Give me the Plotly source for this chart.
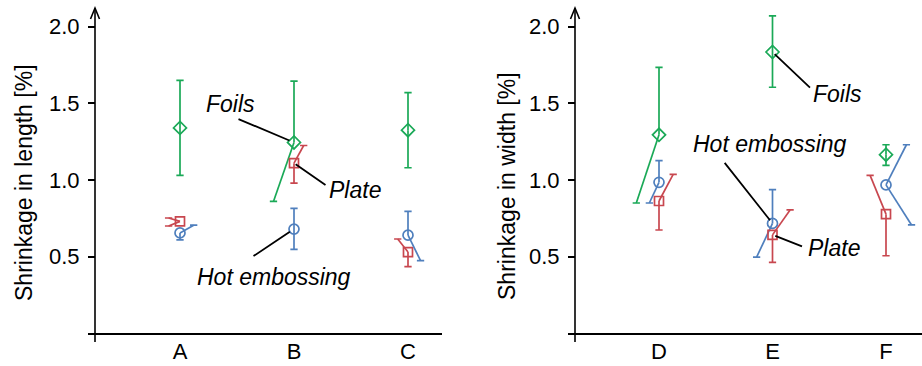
import plotly.graph_objects as go

W, H = 922, 366

# ---------------- data ----------------
cats_left = ["A", "B", "C"]
cats_right = ["D", "E", "F"]

foils_len = [1.34, 1.245, 1.325]
foils_len_hi = [1.65, 1.645, 1.57]
foils_len_lo = [1.03, 0.86, 1.08]
plate_len = [0.73, 1.11, 0.53]
plate_len_hi = [0.752, 1.225, 0.615]
plate_len_lo = [0.70, 0.98, 0.435]
hot_len = [0.655, 0.68, 0.64]
hot_len_hi = [0.705, 0.815, 0.795]
hot_len_lo = [0.61, 0.548, 0.474]

foils_wid = [1.295, 1.835, 1.165]
foils_wid_hi = [1.735, 2.07, 1.23]
foils_wid_lo = [0.85, 1.605, 1.095]
hot_wid = [0.985, 0.717, 0.968]
hot_wid_hi = [1.127, 0.937, 1.23]
hot_wid_lo = [0.85, 0.497, 0.707]
plate_wid = [0.863, 0.642, 0.777]
plate_wid_hi = [1.037, 0.805, 1.03]
plate_wid_lo = [0.674, 0.463, 0.506]

# horizontal displacement of whisker ends (category units), as drawn in the source
foils_len_hi_dx = [0, 0, 0]
foils_len_lo_dx = [0, -0.18, 0]
plate_len_hi_dx = [-0.1, 0.085, -0.09]
plate_len_lo_dx = [-0.1, 0, 0]
hot_len_hi_dx = [0.12, 0, 0]
hot_len_lo_dx = [0, 0, 0.11]

foils_wid_hi_dx = [0, 0, 0]
foils_wid_lo_dx = [-0.2, 0, 0]
hot_wid_hi_dx = [0, 0, 0.18]
hot_wid_lo_dx = [-0.085, -0.14, 0.225]
plate_wid_hi_dx = [0.125, 0.155, -0.14]
plate_wid_lo_dx = [0, 0, 0]

y_ticks = [0.5, 1.0, 1.5, 2.0]

GREEN = "#1aa957"
RED = "#c8474f"
BLUE = "#4f7fbd"
FONT = "Liberation Sans, Arial, sans-serif"


def px(x):
    return x / W


def py(y):
    return 1 - y / H


fig = go.Figure()

CAP = 0.032


def add_series(xa, ya, vals, hi, lo, hi_dx, lo_dx, color, symbol, size):
    xs, ys = [], []
    for i, v in enumerate(vals):
        x = i + 1
        for end, dx in ((hi[i], hi_dx[i]), (lo[i], lo_dx[i])):
            xe = x + dx
            xs += [x, xe, None, xe - CAP, xe + CAP, None]
            ys += [v, end, None, end, end, None]
    fig.add_trace(go.Scatter(x=xs, y=ys, xaxis=xa, yaxis=ya, mode="lines",
                             line=dict(color=color, width=1.7),
                             hoverinfo="skip", showlegend=False))
    fig.add_trace(go.Scatter(x=[i + 1 for i in range(len(vals))], y=vals,
                             xaxis=xa, yaxis=ya, mode="markers",
                             marker=dict(symbol=symbol, size=size, color=color,
                                         line=dict(color=color, width=1.7)),
                             showlegend=False))


add_series("x", "y", foils_len, foils_len_hi, foils_len_lo, foils_len_hi_dx, foils_len_lo_dx, GREEN, "diamond-open", 10)
add_series("x", "y", plate_len, plate_len_hi, plate_len_lo, plate_len_hi_dx, plate_len_lo_dx, RED, "square-open", 9)
add_series("x", "y", hot_len, hot_len_hi, hot_len_lo, hot_len_hi_dx, hot_len_lo_dx, BLUE, "circle-open", 10)

add_series("x2", "y2", foils_wid, foils_wid_hi, foils_wid_lo, foils_wid_hi_dx, foils_wid_lo_dx, GREEN, "diamond-open", 10)
add_series("x2", "y2", hot_wid, hot_wid_hi, hot_wid_lo, hot_wid_hi_dx, hot_wid_lo_dx, BLUE, "circle-open", 10)
add_series("x2", "y2", plate_wid, plate_wid_hi, plate_wid_lo, plate_wid_hi_dx, plate_wid_lo_dx, RED, "square-open", 9)

y0_px, ytop_px = 333.3, 10.0
yr = [0, (y0_px - ytop_px) / 153.3]
ydom = [py(y0_px), py(ytop_px)]

common_x = dict(showline=True, linecolor="black", linewidth=1.6, ticks="",
                showgrid=False, zeroline=False, tickvals=[1, 2, 3], automargin=False,
                ticklabelstandoff=-3,
                tickfont=dict(family=FONT, size=22, color="black"))
common_y = dict(showline=False, ticks="outside", ticklen=7, tickwidth=1.6,
                tickcolor="black", showgrid=False, zeroline=False, automargin=False,
                range=yr, domain=ydom, tickvals=y_ticks, ticklabelstandoff=4,
                ticktext=[f"{v:.1f}" for v in y_ticks],
                tickfont=dict(family=FONT, size=22, color="black"))

# left panel: axis from 88 to 442 px, A at 180, 114 px per category
fig.update_layout(
    xaxis=dict(common_x, domain=[px(88), px(442)],
               range=[1 - 92 / 114, 1 + 262 / 114], ticktext=cats_left, anchor="y"),
    yaxis=dict(common_y, anchor="free", position=px(95)),
    xaxis2=dict(common_x, domain=[px(568), 1.0],
                range=[1 - 91 / 113.5, 1 + 263 / 113.5], ticktext=cats_right, anchor="y2"),
    yaxis2=dict(common_y, anchor="free", position=px(575)),
)

shapes = []
for xax in (95, 575):
    shapes.append(dict(type="line", xref="paper", yref="paper",
                       x0=px(xax), x1=px(xax), y0=py(342), y1=py(8),
                       line=dict(color="black", width=1.6)))
    shapes.append(dict(type="path", xref="paper", yref="paper",
                       path=f"M {px(xax-4.5)},{py(19)} L {px(xax)},{py(8)} L {px(xax+4.5)},{py(19)}",
                       line=dict(color="black", width=1.6)))

annotations = []


def leader(xa, ya, x, y, ax, ay, standoff):
    annotations.append(dict(xref=xa, yref=ya, x=x, y=y, text="", showarrow=True,
                            arrowhead=0, arrowwidth=1.8, arrowcolor="black",
                            ax=ax, ay=ay, standoff=standoff))


def label(text, cx, cy):
    annotations.append(dict(xref="paper", yref="paper", x=px(cx), y=py(cy),
                            text=f"<i>{text}</i>", showarrow=False,
                            xanchor="center", yanchor="middle",
                            font=dict(family=FONT, size=23, color="black")))


leader("x", "y", 2, foils_len[1], -57, -24, 5)
leader("x", "y", 2, plate_len[1], 33, 23, 2)
leader("x", "y", 2, hot_len[1], -42, 28, 5)
leader("x2", "y2", 2, foils_wid[1], 39, 37, 3)
leader("x2", "y2", 2, hot_wid[1], -49, -62, 4)
leader("x2", "y2", 2, plate_wid[1], 31, 12, 3)

label("Foils", 230, 104)
label("Plate", 355, 190)
label("Hot embossing", 274, 277)
label("Foils", 837, 94)
label("Hot embossing", 770, 144)
label("Plate", 834, 248)

# axis titles
annotations.append(dict(xref="paper", yref="paper", x=px(24), y=py(183),
                        text="Shrinkage in length [%]", textangle=-90, showarrow=False,
                        xanchor="center", yanchor="middle",
                        font=dict(family=FONT, size=23, color="black")))
annotations.append(dict(xref="paper", yref="paper", x=px(507), y=py(186),
                        text="Shrinkage in width [%]", textangle=-90, showarrow=False,
                        xanchor="center", yanchor="middle",
                        font=dict(family=FONT, size=23, color="black")))

fig.update_layout(width=W, height=H, margin=dict(l=0, r=0, t=0, b=0),
                  paper_bgcolor="white", plot_bgcolor="white",
                  shapes=shapes, annotations=annotations, showlegend=False)

fig.write_html("out.html", config={"displayModeBar": False},
               post_script="document.body.style.margin='0';document.body.style.overflow='hidden';")
